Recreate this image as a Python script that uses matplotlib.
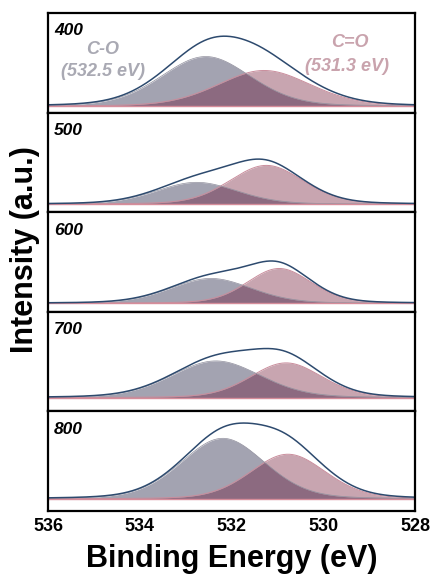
import numpy as np
import matplotlib
matplotlib.use('Agg')
import matplotlib.pyplot as plt

# DATA
temps = ['400', '500', '600', '700', '800']

# C-O component: centre (eV), height (% of panel), FWHM (eV)
co_center = [532.56, 532.76, 532.45, 532.34, 532.19]
co_height = [50, 22, 25, 37, 61]
co_fwhm = [2.3, 2.1, 2.1, 2.3, 2.16]

# C=O component
cdo_center = [531.29, 531.24, 530.96, 530.81, 530.77]
cdo_height = [36, 39, 35, 35, 45]
cdo_fwhm = [2.4, 1.9, 1.65, 1.85, 1.95]

# baseline offset of each panel (% of panel height above bottom spine)
base_offset = [6.3, 8, 8.5, 13.7, 12]

xticks = [536, 534, 532, 530, 528]

# STYLE
plt.rcParams['font.family'] = ['Liberation Sans', 'DejaVu Sans']
plt.rcParams['font.weight'] = 'bold'

c_co = '#a3a3b1'
c_cdo = '#c8a5b0'
c_both = '#8c6a80'
c_env = '#2d4a6e'
c_base = '#d68d9a'


def pseudo_voigt(x, center, height, fwhm, eta=0.2):
    """ Gaussian/Lorentzian mix used for the XPS peak fit. """
    u = ((x - center) / (fwhm / 2.0)) ** 2
    return height * ((1 - eta) * np.exp(-np.log(2) * u) + eta / (1 + u))


x = np.linspace(536, 528, 800)

fig, axes = plt.subplots(5, 1, figsize=(4.33, 5.79), dpi=100, sharex=True)
fig.subplots_adjust(left=48 / 433, right=415 / 433,
                    top=1 - 13 / 579, bottom=1 - 511 / 579, hspace=0)

for i, ax in enumerate(axes):
    co = pseudo_voigt(x, co_center[i], co_height[i], co_fwhm[i])
    cdo = pseudo_voigt(x, cdo_center[i], cdo_height[i], cdo_fwhm[i])
    env = co + cdo

    ax.fill_between(x, 0, co, color=c_co, lw=0)
    ax.fill_between(x, 0, cdo, color=c_cdo, lw=0)
    ax.fill_between(x, 0, np.minimum(co, cdo), color=c_both, lw=0)
    ax.plot(x, cdo, color='#c98d9c', lw=0.7)
    ax.plot(x, co, color='#8f8e9c', lw=0.5)
    ax.axhline(0, color=c_base, lw=1.0)
    ax.plot(x, env, color=c_env, lw=1.1)

    ax.set_xlim(536, 528)
    ax.set_ylim(-base_offset[i], 100 - base_offset[i])
    ax.set_yticks([])
    for sp in ax.spines.values():
        sp.set_linewidth(1.6)
        sp.set_color('black')

    ax.text(0.016, 0.82, temps[i], transform=ax.transAxes, ha='left',
            va='center', fontsize=12.5, fontstyle='italic', fontweight='bold')

# peak labels in the top panel
ax0 = axes[0]
ax0.text(0.15, 0.63, 'C-O', transform=ax0.transAxes, ha='center', va='center',
         fontsize=13, fontstyle='italic', fontweight='bold', color='#a9a9b3')
ax0.text(0.15, 0.41, '(532.5 eV)', transform=ax0.transAxes, ha='center',
         va='center', fontsize=13, fontstyle='italic', fontweight='bold',
         color='#a9a9b3')
ax0.text(0.823, 0.70, 'C=O', transform=ax0.transAxes, ha='center',
         va='center', fontsize=13, fontstyle='italic', fontweight='bold',
         color='#c9a3ad')
ax0.text(0.815, 0.46, '(531.3 eV)', transform=ax0.transAxes, ha='center',
         va='center', fontsize=13, fontstyle='italic', fontweight='bold',
         color='#c9a3ad')

ax_b = axes[-1]
ax_b.set_xticks(xticks)
ax_b.set_xticklabels([str(t) for t in xticks])
ax_b.tick_params(axis='x', length=0, pad=5, labelsize=13)
for lab in ax_b.get_xticklabels():
    lab.set_fontweight('bold')

fig.text(231.5 / 433, 1 - 567 / 579, 'Binding Energy (eV)', ha='center',
         va='baseline', fontsize=22, fontweight='bold')
fig.text(25 / 433, 1 - 250 / 579, 'Intensity (a.u.)', ha='center',
         va='center', rotation=90, fontsize=22, fontweight='bold')

fig.savefig('out.png', dpi=100)
